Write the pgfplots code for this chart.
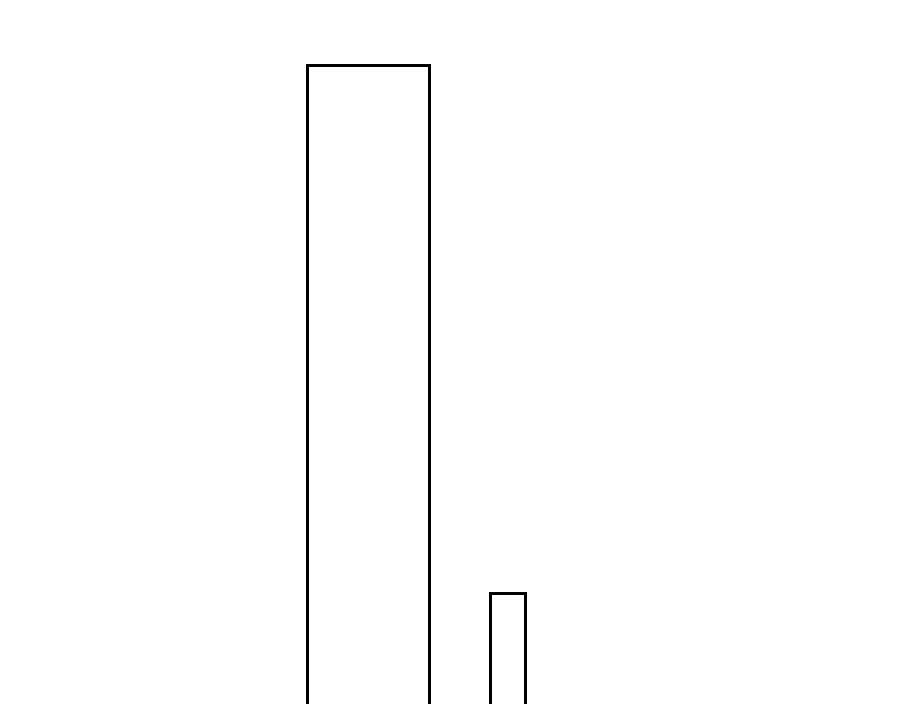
\documentclass[border=0pt]{standalone}
\usepackage{pgfplots}
\pgfplotsset{compat=1.18}
\begin{document}
\begin{tikzpicture}
\begin{axis}[
    hide axis,
    scale only axis,
    at={(0pt,-10pt)}, anchor=south west,
    width=450pt, height=361.5pt,
    xmin=0, xmax=900,
    ymin=0, ymax=723,
]
% two outlined bars, their bases fall below the page edge
\addplot[ybar, bar width=122, bar shift=0, draw=black, fill=none, line width=1.5pt]
    coordinates {(368,657)};
\addplot[ybar, bar width=35, bar shift=0, draw=black, fill=none, line width=1.5pt]
    coordinates {(507.5,130)};
\end{axis}
\pgfresetboundingbox
\useasboundingbox (0,0) rectangle (450pt,351.5pt);
\end{tikzpicture}
\end{document}
